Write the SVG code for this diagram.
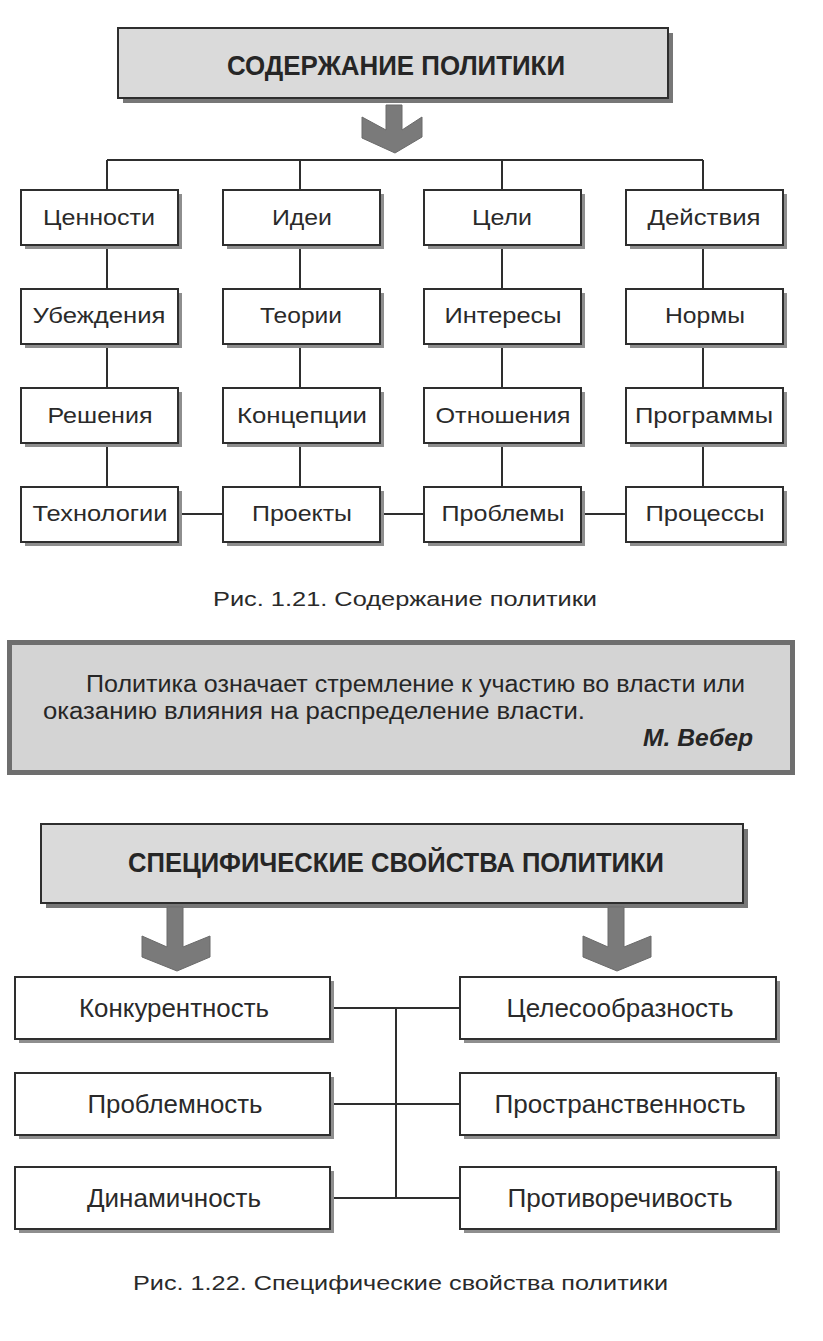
<svg xmlns="http://www.w3.org/2000/svg" width="823" height="1341" viewBox="0 0 823 1341">
<style>
.bg{fill:#ffffff}
.box{fill:#ffffff;stroke:#2e2e2e;stroke-width:2}
.sh{fill:#8e8e8e}
.hdr{fill:#dadada;stroke:#2e2e2e;stroke-width:2}
.hsh{fill:#777777}
.arrow{fill:#7a7a7a;stroke:#6a6a6a;stroke-width:1}
.ln{stroke:#2e2e2e;stroke-width:2;fill:none}
.t{font-family:"Liberation Sans",Arial,sans-serif;font-size:22px;fill:#2a2a2a;text-anchor:middle}
.tn{font-family:"Liberation Sans Narrow","Liberation Sans",Arial,sans-serif;font-size:25px;fill:#2a2a2a;text-anchor:middle}
.ht{font-family:"Liberation Sans Narrow","Liberation Sans",Arial,sans-serif;font-weight:bold;fill:#262626;text-anchor:middle}
.cap{font-family:"Liberation Sans",Arial,sans-serif;font-size:21px;fill:#2a2a2a}
.q{font-family:"Liberation Sans Narrow","Liberation Sans",Arial,sans-serif;font-size:23px;fill:#262626}
</style>
<rect class="bg" x="0" y="0" width="823" height="1341"/>

<!-- Figure 1.21 -->
<g id="header1">
<rect class="hsh" x="123" y="33" width="550" height="70"/>
<rect class="hdr" x="118" y="28" width="550" height="70"/>
<text class="ht" x="396" y="75" font-size="28" textLength="338" lengthAdjust="spacingAndGlyphs">СОДЕРЖАНИЕ ПОЛИТИКИ</text>
</g>
<g id="arrow1">
<polygon class="arrow" points="386,105 402,105 402,130 422,117 422,137 395,153 362,138 362,117 386,130"/>
</g>

<g id="connectors1">
<path class="ln" d="M107,160 H703 M107,160 V190 M300,160 V190 M502,160 V190 M703,160 V190"/>
<path class="ln" d="M107,245 V289 M300,245 V289 M502,245 V289 M703,245 V289"/>
<path class="ln" d="M107,344 V388 M300,344 V388 M502,344 V388 M703,344 V388"/>
<path class="ln" d="M107,443 V487 M300,443 V487 M502,443 V487 M703,443 V487"/>
<path class="ln" d="M178,514 H223 M380,514 H424 M581,514 H626"/>
</g>

<g id="n-cennosti"><rect class="sh" x="25" y="194" width="157" height="55"/><rect class="box" x="21" y="190" width="157" height="55"/><text class="t" x="99" y="225" textLength="112" lengthAdjust="spacingAndGlyphs">Ценности</text></g>
<g id="n-idei"><rect class="sh" x="227" y="194" width="157" height="55"/><rect class="box" x="223" y="190" width="157" height="55"/><text class="t" x="302" y="225" textLength="60" lengthAdjust="spacingAndGlyphs">Идеи</text></g>
<g id="n-celi"><rect class="sh" x="428" y="194" width="157" height="55"/><rect class="box" x="424" y="190" width="157" height="55"/><text class="t" x="502" y="225" textLength="60" lengthAdjust="spacingAndGlyphs">Цели</text></g>
<g id="n-deistviya"><rect class="sh" x="630" y="194" width="157" height="55"/><rect class="box" x="626" y="190" width="157" height="55"/><text class="t" x="704" y="225" textLength="113" lengthAdjust="spacingAndGlyphs">Действия</text></g>

<g id="n-ubezhdeniya"><rect class="sh" x="25" y="293" width="157" height="55"/><rect class="box" x="21" y="289" width="157" height="55"/><text class="t" x="99" y="323" textLength="133" lengthAdjust="spacingAndGlyphs">Убеждения</text></g>
<g id="n-teorii"><rect class="sh" x="227" y="293" width="157" height="55"/><rect class="box" x="223" y="289" width="157" height="55"/><text class="t" x="301" y="323" textLength="82" lengthAdjust="spacingAndGlyphs">Теории</text></g>
<g id="n-interesy"><rect class="sh" x="428" y="293" width="157" height="55"/><rect class="box" x="424" y="289" width="157" height="55"/><text class="t" x="503" y="323" textLength="117" lengthAdjust="spacingAndGlyphs">Интересы</text></g>
<g id="n-normy"><rect class="sh" x="630" y="293" width="157" height="55"/><rect class="box" x="626" y="289" width="157" height="55"/><text class="t" x="705" y="323" textLength="80" lengthAdjust="spacingAndGlyphs">Нормы</text></g>

<g id="n-resheniya"><rect class="sh" x="25" y="392" width="157" height="55"/><rect class="box" x="21" y="388" width="157" height="55"/><text class="t" x="100" y="423" textLength="105" lengthAdjust="spacingAndGlyphs">Решения</text></g>
<g id="n-koncepcii"><rect class="sh" x="227" y="392" width="157" height="55"/><rect class="box" x="223" y="388" width="157" height="55"/><text class="t" x="302" y="423" textLength="130" lengthAdjust="spacingAndGlyphs">Концепции</text></g>
<g id="n-otnosheniya"><rect class="sh" x="428" y="392" width="157" height="55"/><rect class="box" x="424" y="388" width="157" height="55"/><text class="t" x="503" y="423" textLength="135" lengthAdjust="spacingAndGlyphs">Отношения</text></g>
<g id="n-programmy"><rect class="sh" x="630" y="392" width="157" height="55"/><rect class="box" x="626" y="388" width="157" height="55"/><text class="t" x="704" y="423" textLength="138" lengthAdjust="spacingAndGlyphs">Программы</text></g>

<g id="n-tehnologii"><rect class="sh" x="25" y="491" width="157" height="55"/><rect class="box" x="21" y="487" width="157" height="55"/><text class="t" x="100" y="521" textLength="135" lengthAdjust="spacingAndGlyphs">Технологии</text></g>
<g id="n-proekty"><rect class="sh" x="227" y="491" width="157" height="55"/><rect class="box" x="223" y="487" width="157" height="55"/><text class="t" x="302" y="521" textLength="100" lengthAdjust="spacingAndGlyphs">Проекты</text></g>
<g id="n-problemy"><rect class="sh" x="428" y="491" width="157" height="55"/><rect class="box" x="424" y="487" width="157" height="55"/><text class="t" x="503" y="521" textLength="123" lengthAdjust="spacingAndGlyphs">Проблемы</text></g>
<g id="n-processy"><rect class="sh" x="630" y="491" width="157" height="55"/><rect class="box" x="626" y="487" width="157" height="55"/><text class="t" x="705" y="521" textLength="119" lengthAdjust="spacingAndGlyphs">Процессы</text></g>

<text class="cap" x="213" y="606" textLength="384" lengthAdjust="spacingAndGlyphs">Рис. 1.21. Содержание политики</text>

<!-- Quote -->
<g id="quote">
<rect x="9.5" y="642.5" width="783" height="130" fill="#d4d4d4" stroke="#6e6e6e" stroke-width="5"/>
<text class="q" x="86" y="692" textLength="659" lengthAdjust="spacingAndGlyphs">Политика означает стремление к участию во власти или</text>
<text class="q" x="43" y="719" textLength="542" lengthAdjust="spacingAndGlyphs">оказанию влияния на распределение власти.</text>
<text class="q" x="643" y="746" font-weight="bold" font-style="italic" textLength="110" lengthAdjust="spacingAndGlyphs">М. Вебер</text>
</g>

<!-- Figure 1.22 -->
<g id="header2">
<rect class="hsh" x="46" y="829" width="702" height="79"/>
<rect class="hdr" x="41" y="824" width="702" height="79"/>
<text class="ht" x="396" y="872" font-size="27" textLength="536" lengthAdjust="spacingAndGlyphs">СПЕЦИФИЧЕСКИЕ СВОЙСТВА ПОЛИТИКИ</text>
</g>
<g id="arrow2">
<polygon class="arrow" points="167,907 183,907 183,947 210,936 210,957 177,971 142,957 142,936 167,947"/>
</g>
<g id="arrow3">
<polygon class="arrow" points="608,907 624,907 624,947 651,936 651,957 617,971 583,957 583,936 608,947"/>
</g>

<g id="connectors2">
<path class="ln" d="M330,1008 H460 M330,1104 H460 M330,1198 H460 M396,1008 V1198"/>
</g>

<g id="n-konkurentnost"><rect class="sh" x="19" y="981" width="315" height="62"/><rect class="box" x="15" y="977" width="315" height="62"/><text class="tn" x="174" y="1017" textLength="190" lengthAdjust="spacingAndGlyphs">Конкурентность</text></g>
<g id="n-problemnost"><rect class="sh" x="19" y="1077" width="315" height="62"/><rect class="box" x="15" y="1073" width="315" height="62"/><text class="tn" x="175" y="1113" textLength="175" lengthAdjust="spacingAndGlyphs">Проблемность</text></g>
<g id="n-dinamichnost"><rect class="sh" x="19" y="1171" width="315" height="62"/><rect class="box" x="15" y="1167" width="315" height="62"/><text class="tn" x="174" y="1207" textLength="174" lengthAdjust="spacingAndGlyphs">Динамичность</text></g>
<g id="n-celesoobraznost"><rect class="sh" x="464" y="981" width="316" height="62"/><rect class="box" x="460" y="977" width="316" height="62"/><text class="tn" x="620" y="1017" textLength="227" lengthAdjust="spacingAndGlyphs">Целесообразность</text></g>
<g id="n-prostranstvennost"><rect class="sh" x="464" y="1077" width="316" height="62"/><rect class="box" x="460" y="1073" width="316" height="62"/><text class="tn" x="620" y="1113" textLength="251" lengthAdjust="spacingAndGlyphs">Пространственность</text></g>
<g id="n-protivorechivost"><rect class="sh" x="464" y="1171" width="316" height="62"/><rect class="box" x="460" y="1167" width="316" height="62"/><text class="tn" x="620" y="1207" textLength="225" lengthAdjust="spacingAndGlyphs">Противоречивость</text></g>

<text class="cap" x="133" y="1290" textLength="535" lengthAdjust="spacingAndGlyphs">Рис. 1.22. Специфические свойства политики</text>
</svg>
